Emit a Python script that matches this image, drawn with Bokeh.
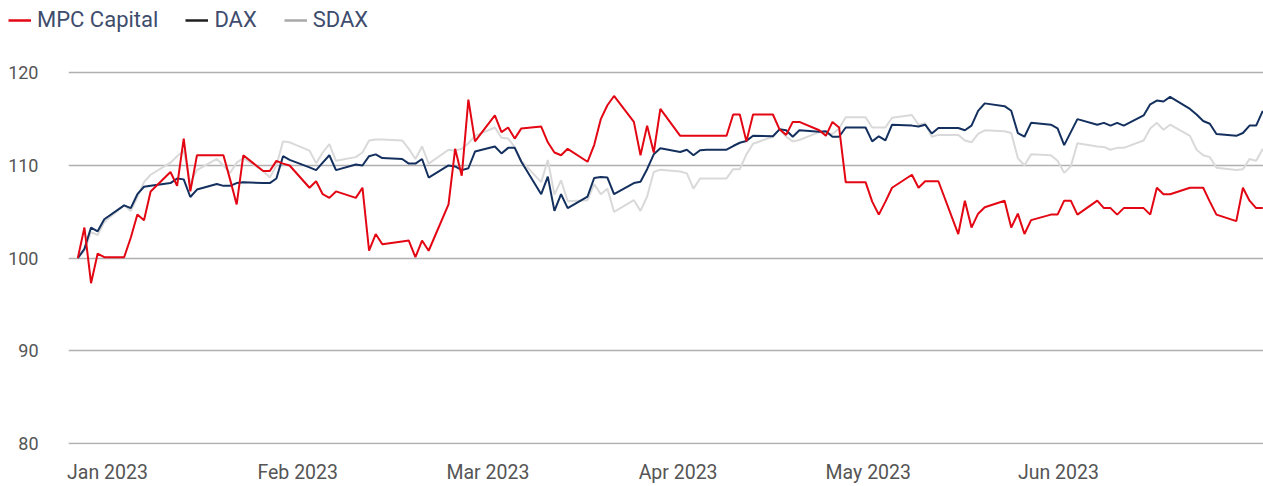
import pandas as pd
from bokeh.plotting import figure
from bokeh.layouts import column
from bokeh.models import Range1d, FixedTicker, Legend, LegendItem
from bokeh.embed import file_html
from bokeh.resources import INLINE

# ---- data (one value per weekday, 2 Jan 2023 .. 30 Jun 2023, indexed to 100) ----
dates = pd.bdate_range("2023-01-02", "2023-06-30")

mpc_capital = [
    100.0, 103.3, 97.3, 100.5, 100.1,
    100.1, 102.2, 104.7, 104.1, 107.2,
    109.3, 107.8, 112.9, 107.2, 111.1,
    111.1, 111.1, 108.5, 105.8, 111.1,
    109.4, 109.4, 110.5, 110.2, 110.0,
    107.6, 108.3, 106.9, 106.5, 107.2,
    106.5, 107.6, 100.8, 102.6, 101.5,
    101.8, 101.9, 100.1, 101.9, 100.8,
    105.8, 111.8, 108.9, 117.1, 112.6,
    115.4, 113.6, 114.1, 112.9, 114.0,
    114.2, 112.5, 111.4, 111.1, 111.8,
    110.4, 112.2, 115.0, 116.5, 117.5,
    114.7, 111.1, 114.3, 111.4, 116.1,
    113.2, 113.2, 113.2, 113.2, 113.2,
    113.2, 115.5, 115.5, 112.6, 115.5,
    115.5, 113.9, 113.3, 114.7, 114.7,
    113.8, 113.2, 114.7, 114.1, 108.2,
    108.2, 106.1, 104.7, 106.1, 107.6,
    109.0, 107.6, 108.3, 108.3, 108.3,
    102.6, 106.2, 103.3, 104.8, 105.5,
    106.2, 103.3, 104.8, 102.6, 104.1,
    104.7, 104.7, 106.2, 106.2, 104.7,
    106.2, 105.4, 105.4, 104.7, 105.4,
    105.4, 104.7, 107.6, 106.9, 106.9,
    107.6, 107.6, 107.6, 106.1, 104.7,
    104.0, 107.6, 106.2, 105.4, 105.4,
]

dax = [
    100.0, 101.0, 103.3, 102.9, 104.2,
    105.7, 105.4, 106.9, 107.7, 107.8,
    108.1, 108.6, 108.5, 106.6, 107.4,
    108.0, 107.8, 107.8, 108.1, 108.2,
    108.1, 108.1, 108.6, 111.0, 110.6,
    109.8, 109.5, 110.3, 111.1, 109.5,
    110.1, 110.0, 111.0, 111.2, 110.8,
    110.7, 110.2, 110.2, 110.7, 108.7,
    110.0, 109.9, 109.5, 109.7, 111.5,
    112.05, 111.3, 111.9, 111.9, 110.4,
    106.9, 108.8, 105.1, 106.9, 105.4,
    106.65, 108.65, 108.75, 108.7, 106.9,
    108.1, 108.25, 109.6, 111.2, 111.85,
    111.45, 111.7, 111.1, 111.65, 111.7,
    111.7, 112.1, 112.45, 112.65, 113.2,
    113.15, 113.9, 113.8, 113.1, 113.8,
    113.65, 113.7, 113.1, 113.1, 114.1,
    114.1, 112.6, 113.15, 112.7, 114.4,
    114.3, 114.2, 114.4, 113.45, 114.05,
    114.05, 113.8, 114.3, 115.9, 116.7,
    116.4, 115.9, 113.5, 113.1, 114.6,
    114.4, 114.0, 112.2, 113.6, 115.0,
    114.4, 114.6, 114.3, 114.6, 114.3,
    115.4, 116.6, 117.0, 116.9, 117.4,
    116.1, 115.5, 114.8, 114.5, 113.4,
    113.2, 113.5, 114.3, 114.3, 115.9,
]

sdax = [
    100.0, 100.8, 102.8, 102.5, 103.9,
    105.7, 105.1, 106.6, 108.2, 109.0,
    110.3, 111.0, 111.6, 108.1, 109.5,
    110.7, 110.0, 109.2, 110.3, 110.8,
    109.4, 108.7, 110.0, 112.6, 112.5,
    111.6, 110.25, 111.4, 112.3, 110.5,
    110.9, 111.4, 112.7, 112.8, 112.8,
    112.7, 111.8, 110.7, 112.05, 110.2,
    111.7, 111.6, 111.8, 112.4, 113.2,
    114.1, 113.0, 112.9, 112.0, 110.5,
    108.2, 110.6, 106.85, 108.4, 106.15,
    106.25, 108.0, 106.9, 107.5, 105.0,
    106.25, 105.1, 106.65, 109.3, 109.55,
    109.35, 109.15, 107.5, 108.6, 108.6,
    108.6, 109.6, 109.6, 111.2, 112.35,
    113.1, 113.9, 113.1, 112.6, 112.75,
    113.6, 113.5, 113.4, 114.0, 115.2,
    115.2, 114.1, 114.1, 114.1, 115.15,
    115.45, 114.4, 114.55, 113.1, 113.3,
    113.3, 112.7, 112.5, 113.4, 113.8,
    113.7, 113.5, 110.8, 110.0, 111.2,
    111.1, 110.5, 109.2, 109.9, 112.4,
    112.05, 112.0, 111.7, 111.9, 111.9,
    112.7, 114.0, 114.6, 113.85, 114.4,
    113.2, 111.7, 111.1, 110.9, 109.75,
    109.5, 109.6, 110.7, 110.5, 111.8,
]

series_names = ["MPC Capital", "DAX", "SDAX"]
month_labels = ["Jan 2023", "Feb 2023", "Mar 2023", "Apr 2023", "May 2023", "Jun 2023"]
y_ticks = [80, 90, 100, 110, 120]

# ---- layout / style ----
DAY = 86400000
t0 = int(pd.Timestamp("2023-01-02").value // 10**6)
label_offsets = [4.49, 33.22, 61.95, 90.68, 119.41, 148.14]   # label centres, days after t0
tick_ms = [int(t0 + o * DAY) for o in label_offsets]

RED, NAVY, LIGHT = "#e30613", "#14305f", "#d9d9d9"
FONT = "Roboto"
W = 1263

# legend strip on top
lf = figure(width=W, height=40, output_backend="svg", toolbar_location=None,
            x_axis_location=None, y_axis_location=None,
            x_range=Range1d(0, 1), y_range=Range1d(0, 1),
            min_border_left=0, min_border_right=0, min_border_top=0, min_border_bottom=0)
lf.outline_line_color = None
lf.xgrid.visible = False
lf.ygrid.visible = False

# main chart
p = figure(
    width=W, height=446,
    x_axis_type="datetime",
    x_range=Range1d(t0 - 1.405 * DAY, t0 + 179.109 * DAY),
    y_range=Range1d(79.892, 123.485),
    output_backend="svg", toolbar_location=None,
    min_border_left=68, min_border_right=0, min_border_top=0, min_border_bottom=42,
)

try:
    lf.frame_align = False
    p.frame_align = False
    legend_x = 8
except AttributeError:
    legend_x = -60

sw_red = lf.line(dates[:1], mpc_capital[:1], line_color=RED, line_width=2.5)
sw_dax = lf.line(dates[:1], dax[:1], line_color="#1f1f1f", line_width=2.5)
sw_sdax = lf.line(dates[:1], sdax[:1], line_color="#a8a8a8", line_width=2.5)
legend = Legend(
    items=[LegendItem(label=series_names[0], renderers=[sw_red]),
           LegendItem(label=series_names[1], renderers=[sw_dax]),
           LegendItem(label=series_names[2], renderers=[sw_sdax])],
    location=(legend_x, 2.5), orientation="horizontal",
    padding=0, margin=0, spacing=27, label_standoff=6,
    glyph_width=23, glyph_height=36,
    border_line_color=None, background_fill_alpha=0,
    label_text_font=FONT, label_text_font_size="22px", label_text_color="#3e4c6d",
)
lf.add_layout(legend)

p.outline_line_color = None
p.background_fill_color = "white"
p.border_fill_color = "white"

p.line(dates, sdax, line_color=LIGHT, line_width=2)
p.line(dates, dax, line_color=NAVY, line_width=2)
p.line(dates, mpc_capital, line_color=RED, line_width=2)

# x axis
p.xaxis.ticker = FixedTicker(ticks=tick_ms)
p.xaxis.major_label_overrides = {t: lab for t, lab in zip(tick_ms, month_labels)}
p.xaxis.axis_line_color = None
p.xaxis.major_tick_line_color = None
p.xaxis.minor_tick_line_color = None
p.xaxis.major_tick_out = 0
p.xaxis.major_tick_in = 0
p.xaxis.minor_tick_out = 0
p.xaxis.major_label_standoff = 16
p.xaxis.major_label_text_line_height = 1.0
p.xaxis.major_label_text_font = FONT
p.xaxis.major_label_text_font_size = "19.5px"
p.xaxis.major_label_text_color = "#555555"
p.xgrid.grid_line_color = None

# y axis
p.yaxis.ticker = FixedTicker(ticks=y_ticks)
p.yaxis.axis_line_color = None
p.yaxis.major_tick_line_color = None
p.yaxis.minor_tick_line_color = None
p.yaxis.major_tick_out = 0
p.yaxis.major_tick_in = 0
p.yaxis.minor_tick_out = 0
p.yaxis.major_label_standoff = 30
p.yaxis.major_label_text_font = FONT
p.yaxis.major_label_text_font_size = "18px"
p.yaxis.major_label_text_color = "#555555"
p.ygrid.grid_line_color = "#b0b0b0"
p.ygrid.grid_line_width = 1.5

layout = column(lf, p, spacing=0)
open("out.html", "w").write(file_html(layout, INLINE))
